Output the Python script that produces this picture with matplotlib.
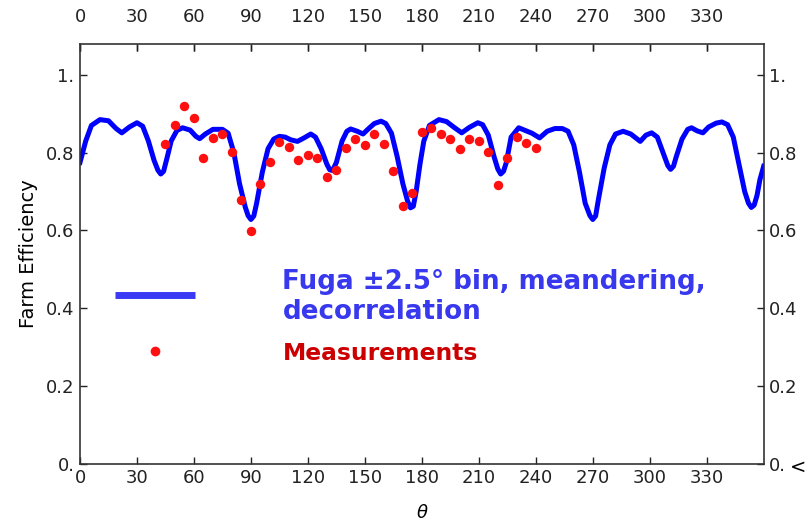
import numpy as np
import matplotlib
matplotlib.use("Agg")
import matplotlib.pyplot as plt
from matplotlib.ticker import FixedLocator, FuncFormatter

# Fuga model curve (±2.5 deg bin, meandering, decorrelation)
fuga_theta = [0, 3, 6, 10.5, 15, 19, 22, 26, 30, 33, 36, 39, 41, 42.5, 44, 46, 48, 51,
              54, 58, 61, 63, 66, 70, 75, 78, 81, 84, 87, 88.5, 90, 91.5, 93, 96, 99,
              102, 105, 108, 111, 114.5, 118, 121.5, 124, 127, 130, 131.5, 133, 135,
              138, 140.5, 142.5, 146, 149, 152, 155, 158.5, 161, 164, 167, 170, 172.5,
              174, 175.5, 177, 179, 181, 184, 189, 193, 197, 201, 205, 209.5, 212, 215,
              218, 220, 221.5, 223, 224.5, 227, 231, 234, 238, 242, 246, 250, 254, 257,
              260, 263, 266, 268.5, 270, 271.5, 273, 276, 279, 282, 286, 290, 295, 298,
              301, 304, 307, 309.5, 311, 312.5, 314, 317, 320, 322, 325, 328, 331, 335,
              338, 341, 344, 347, 350, 352, 353.5, 355, 356.5, 358, 360]
fuga_eff = [0.775, 0.83, 0.87, 0.885, 0.882, 0.862, 0.851, 0.866, 0.877, 0.868, 0.83,
            0.78, 0.755, 0.745, 0.752, 0.79, 0.83, 0.857, 0.864, 0.858, 0.842, 0.836,
            0.848, 0.86, 0.86, 0.85, 0.80, 0.72, 0.66, 0.638, 0.628, 0.637, 0.67, 0.75,
            0.81, 0.835, 0.842, 0.84, 0.833, 0.829, 0.838, 0.848, 0.84, 0.81, 0.77,
            0.756, 0.754, 0.775, 0.83, 0.855, 0.861, 0.855, 0.848, 0.862, 0.875, 0.881,
            0.875, 0.85, 0.79, 0.72, 0.675, 0.658, 0.662, 0.70, 0.77, 0.829, 0.87, 0.885,
            0.88, 0.865, 0.851, 0.865, 0.877, 0.872, 0.845, 0.79, 0.758, 0.745, 0.752,
            0.775, 0.84, 0.864, 0.858, 0.85, 0.838, 0.855, 0.862, 0.862, 0.855, 0.82,
            0.75, 0.67, 0.638, 0.628, 0.637, 0.68, 0.76, 0.82, 0.848, 0.855, 0.848,
            0.829, 0.845, 0.851, 0.84, 0.80, 0.767, 0.757, 0.765, 0.79, 0.835, 0.86,
            0.864, 0.856, 0.851, 0.866, 0.876, 0.879, 0.872, 0.84, 0.77, 0.70, 0.67,
            0.659, 0.665, 0.69, 0.73, 0.765]

# measured farm efficiency, 5 deg steps
meas_theta = [45, 50, 55, 60, 65, 70, 75, 80, 85, 90, 95, 100, 105, 110, 115, 120, 125,
              130, 135, 140, 145, 150, 155, 160, 165, 170, 175, 180, 185, 190, 195, 200,
              205, 210, 215, 220, 225, 230, 235, 240]
meas_eff = [0.823, 0.872, 0.921, 0.888, 0.787, 0.838, 0.848, 0.801, 0.678, 0.599, 0.720,
            0.777, 0.827, 0.815, 0.781, 0.794, 0.787, 0.737, 0.756, 0.811, 0.836, 0.819,
            0.847, 0.823, 0.752, 0.664, 0.696, 0.853, 0.864, 0.849, 0.836, 0.810, 0.836,
            0.829, 0.801, 0.718, 0.787, 0.840, 0.825, 0.811]

x_ticks = list(range(0, 360, 30))
y_ticks = [0, 0.2, 0.4, 0.6, 0.8, 1.0]


def mma_fmt(v, pos):
    # "0." / "1." style for whole numbers
    if abs(v - round(v)) < 1e-9:
        return "%d." % round(v)
    return "%g" % v


plt.rcParams["font.family"] = ["DejaVu Sans"]
fig = plt.figure(figsize=(8.1, 5.22), dpi=100)
ax = fig.add_axes([0.0988, 0.112, 0.844, 0.804])

ax.plot(fuga_theta, fuga_eff, color="#0000ff", lw=3.6, solid_joinstyle="round", zorder=2)
ax.plot(meas_theta, meas_eff, "o", color="#ff1010", ms=6.8, mec="none", zorder=3)

ax.set_xlim(0, 360)
ax.set_ylim(0, 1.08)
ax.xaxis.set_major_locator(FixedLocator(x_ticks))
ax.yaxis.set_major_locator(FixedLocator(y_ticks))
ax.yaxis.set_major_formatter(FuncFormatter(mma_fmt))
ax.tick_params(direction="in", length=5, width=1, labelsize=13,
               top=True, right=True, labeltop=False, labelright=True, colors="#222222")
ax.tick_params(axis="x", pad=4)
ax.tick_params(axis="y", pad=4)
for s in ax.spines.values():
    s.set_linewidth(1.2)
    s.set_color("#333333")

# top labels sit further from the frame than the bottom ones
top = ax.secondary_xaxis("top")
top.xaxis.set_major_locator(FixedLocator(x_ticks))
top.tick_params(direction="in", length=5, width=1, labelsize=13, pad=13, colors="#222222")
top.spines["top"].set_visible(False)

ax.set_ylabel("Farm Efficiency", fontsize=14, labelpad=6)
ax.set_xlabel(r"$\theta$", fontsize=13, labelpad=12)

# hand-drawn key inside the plot
ax.plot([0.051, 0.168], [0.402, 0.402], transform=ax.transAxes,
        color="#3a3af5", lw=5, solid_capstyle="butt")
ax.plot([0.11], [0.269], "o", transform=ax.transAxes, color="#ff1010", ms=7, mec="none")
ax.text(0.296, 0.397, "Fuga \u00b12.5\u00b0 bin, meandering,\ndecorrelation",
        transform=ax.transAxes, color="#3838ee", fontsize=18.8, fontweight="bold",
        va="center", ha="left", linespacing=1.2)
ax.text(0.296, 0.261, "Measurements", transform=ax.transAxes, color="#cc0000",
        fontsize=16.8, fontweight="bold", va="center", ha="left")

fig.text(0.985, 0.105, "<", fontsize=14, color="black", ha="center", va="center")

fig.savefig("out.png", dpi=100)
